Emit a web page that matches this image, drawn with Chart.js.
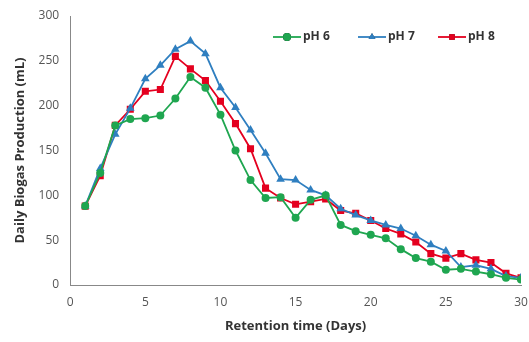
<!DOCTYPE html>
<html>
<head>
<meta charset="utf-8">
<script src="https://cdn.jsdelivr.net/npm/chart.js@4.4.1/dist/chart.umd.min.js"></script>
<style>
  html, body { margin: 0; padding: 0; background: #fff; }
  #wrap { width: 529px; height: 342px; }
</style>
</head>
<body>
<div id="wrap"><canvas id="chart"></canvas></div>
<script>
const days = [1,2,3,4,5,6,7,8,9,10,11,12,13,14,15,16,17,18,19,20,21,22,23,24,25,26,27,28,29,30]
const ph6 = [88,125,178,185,186,189,208,232,220,190,150,117,97,98,75,95,100,67,60,56,52,40,30,26,17,18,15,12,8,6]
const ph7 = [88,130,168,197,230,245,263,272,258,220,198,173,147,118,117,106,100,85,78,72,67,63,55,45,38,20,22,18,10,8]
const ph8 = [88,122,178,196,216,218,255,241,228,205,180,152,108,97,90,93,96,83,80,72,63,57,48,35,30,35,28,25,13,8]
const yTicks = [0, 50, 100, 150, 200, 250, 300]

const fontFamily = "'Open Sans', 'Liberation Sans', sans-serif"
const GREEN = "#1fa650"
const BLUE = "#2f7fc0"
const RED = "#e4001f"

function series(label, values, color, style, radius) {
  return {
    label: label,
    data: days.map((d, i) => ({ x: d, y: values[i] })),
    borderColor: color,
    backgroundColor: color,
    borderWidth: 1.8,
    pointStyle: style,
    pointRadius: radius,
    pointBorderWidth: 0,
    tension: 0,
  }
}

// legend drawn inside the plot, top right
const insideLegend = {
  id: "insideLegend",
  afterDraw(chart) {
    const ctx = chart.ctx
    const items = [[273, GREEN, "circle", "pH 6"], [358, BLUE, "triangle", "pH 7"], [438, RED, "rect", "pH 8"]]
    const y = 37
    ctx.save()
    items.forEach(([x, color, style, text]) => {
      ctx.strokeStyle = color
      ctx.lineWidth = 1.8
      ctx.beginPath()
      ctx.moveTo(x, y)
      ctx.lineTo(x + 28, y)
      ctx.stroke()
      Chart.helpers.drawPoint(ctx, { pointStyle: style, radius: 4, borderWidth: 0 }, x + 14, y)
      ctx.fillStyle = color
      ctx.fill()
      ctx.fillStyle = "#333"
      ctx.font = "bold 12px " + fontFamily
      ctx.textBaseline = "middle"
      ctx.fillText(text, x + 30, y)
    })
    ctx.restore()
  },
}

new Chart(document.getElementById("chart"), {
  type: "line",
  data: {
    datasets: [
      series("pH 6", ph6, GREEN, "circle", 4),
      series("pH 7", ph7, BLUE, "triangle", 5),
      series("pH 8", ph8, RED, "rect", 5),
    ],
  },
  options: {
    responsive: true,
    maintainAspectRatio: false,
    animation: false,
    layout: { padding: { left: 12, right: 0, top: 16, bottom: 8 } },
    plugins: {
      legend: { display: false },
      tooltip: { enabled: false },
    },
    scales: {
      x: {
        type: "linear",
        min: 0,
        max: 30,
        afterFit(axis) {
          axis.paddingRight = 8
        },
        ticks: { stepSize: 5, color: "#555", font: { family: fontFamily, size: 12 }, padding: 6 },
        grid: { display: false, drawTicks: true, tickLength: 4 },
        border: { color: "#888", width: 1 },
        title: {
          display: true,
          text: "Retention time (Days)",
          color: "#333",
          font: { family: fontFamily, size: 13, weight: "bold" },
          padding: { top: 3, bottom: 0 },
        },
      },
      y: {
        min: 0,
        max: 300,
        afterBuildTicks(axis) {
          axis.ticks = yTicks.map((v) => ({ value: v }))
        },
        ticks: { color: "#555", font: { family: fontFamily, size: 12 }, padding: 7 },
        grid: { display: false, drawTicks: true, tickLength: 4 },
        border: { color: "#888", width: 1 },
        title: {
          display: true,
          text: "Daily Biogas Production (mL)",
          color: "#333",
          font: { family: fontFamily, size: 13, weight: "bold" },
          padding: { top: 0, bottom: 4 },
        },
      },
    },
  },
  plugins: [insideLegend],
})
</script>
</body>
</html>
